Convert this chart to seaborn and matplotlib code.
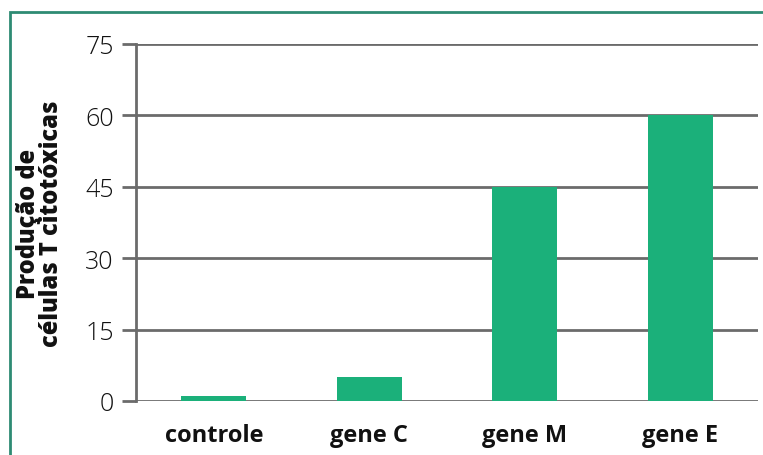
import matplotlib
matplotlib.use("Agg")
import matplotlib.pyplot as plt
import seaborn as sns
import pandas as pd
from matplotlib.patches import Rectangle

categories = ["controle", "gene C", "gene M", "gene E"]
values = [1, 5, 45, 60]
yticks = [0, 15, 30, 45, 60, 75]

sns.set_style("white")
plt.rcParams['font.family'] = ['Open Sans', 'DejaVu Sans']

df = pd.DataFrame({"cat": categories, "val": values})

fig = plt.figure(figsize=(7.63, 4.56), dpi=100)
ax = fig.add_axes([136/763, 1-402/456, (758-136)/763, (402-45)/456])

grid_color = "#6b6b6b"
for t in yticks:
    ax.axhline(t, color=grid_color, lw=2, zorder=0)

sns.barplot(data=df, x="cat", y="val", color="#1BB07A", width=0.42,
            saturation=1, ax=ax, zorder=2, linewidth=0, edgecolor="none")

ax.set_ylim(0, 75)
ax.set_xlim(-0.5, 3.5)
ax.set_yticks(yticks)
ax.set_yticklabels([str(t) for t in yticks], fontsize=18, fontweight="light", color="#111111")
ax.tick_params(axis="y", length=10, width=2, color=grid_color, pad=6, left=True)
ax.tick_params(axis="x", length=0, pad=16)
for lbl in ax.get_xticklabels():
    lbl.set_fontsize(17)
    lbl.set_fontweight("bold")
    lbl.set_color("#111111")
ax.set_xlabel("")
ax.set_ylabel("Produção de\ncélulas T citotóxicas", fontsize=17, fontweight="heavy",
              color="#111111", linespacing=0.9, labelpad=15)

for s in ["top", "right", "bottom"]:
    ax.spines[s].set_visible(False)
ax.spines["left"].set_color(grid_color)
ax.spines["left"].set_linewidth(2)
ax.spines["left"].set_zorder(3)

frame = Rectangle((10/763, -0.05), 1.0, 1-13/456+0.05, transform=fig.transFigure,
                  fill=False, edgecolor="#2E8B73", lw=2, clip_on=False)
fig.patches.append(frame)

fig.savefig("out.png", dpi=100)
